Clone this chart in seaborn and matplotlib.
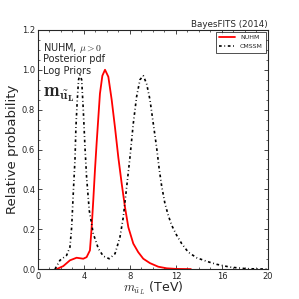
import numpy as np
import pandas as pd
import matplotlib
matplotlib.use("Agg")
import matplotlib.pyplot as plt
import seaborn as sns
from matplotlib.ticker import MultipleLocator

# NUHM posterior
nuhm_x = [1.62, 2.2, 2.78, 3.36, 3.94, 4.23, 4.52, 4.67, 4.81, 4.96, 5.1, 5.25, 5.39,
          5.6, 5.83, 6.12, 6.41, 6.7, 6.99, 7.28, 7.57, 7.86, 8.29, 8.72, 9.16, 9.74,
          10.46, 11.2, 12.0, 13.3]
nuhm_y = [0.0, 0.015, 0.044, 0.057, 0.052, 0.06, 0.094, 0.21, 0.345, 0.50, 0.63, 0.76, 0.88,
          0.97, 1.0, 0.965, 0.85, 0.71, 0.56, 0.43, 0.31, 0.21, 0.128, 0.085, 0.052, 0.03,
          0.012, 0.004, 0.001, 0.0]

# CMSSM posterior
cmssm_x = [1.48, 1.91, 2.49, 2.78, 2.93, 3.07, 3.22, 3.3, 3.42, 3.53, 3.65, 3.8, 3.94,
           4.09, 4.23, 4.46, 4.81, 5.25, 5.68, 6.2, 6.7, 7.13, 7.42, 7.71, 8.0, 8.29,
           8.58, 8.87, 9.16, 9.45, 9.74, 10.03, 10.32, 10.55, 10.75, 11.04, 11.33, 11.63,
           12.06, 12.5, 13.07, 13.8, 14.67, 15.54, 16.7, 18.15, 19.9]
cmssm_y = [0.0, 0.044, 0.069, 0.11, 0.21, 0.38, 0.55, 0.71, 0.85, 0.95, 0.974, 0.95, 0.80,
           0.61, 0.46, 0.295, 0.178, 0.103, 0.065, 0.052, 0.077, 0.16, 0.26, 0.41, 0.56,
           0.73, 0.865, 0.95, 0.97, 0.93, 0.85, 0.73, 0.61, 0.50, 0.42, 0.33, 0.27, 0.22,
           0.17, 0.128, 0.085, 0.057, 0.039, 0.024, 0.01, 0.002, 0.0]

sns.set_style("ticks")
plt.rcParams['font.family'] = ['DejaVu Sans']
plt.rcParams['mathtext.fontset'] = 'cm'

df_n = pd.DataFrame({'x': nuhm_x, 'y': nuhm_y})
df_c = pd.DataFrame({'x': cmssm_x, 'y': cmssm_y})

fig = plt.figure(figsize=(2.99, 2.99), dpi=100)
ax = fig.add_axes([0.127, 0.1, 0.769, 0.8])

sns.lineplot(data=df_n, x='x', y='y', ax=ax, color='red', lw=1.3, label='NUHM')
sns.lineplot(data=df_c, x='x', y='y', ax=ax, color='black', lw=1.2, label='CMSSM')
ax.lines[1].set_dashes([1.6, 1.6, 0.5, 1.6])

ax.set_xlim(0, 20)
ax.set_ylim(0, 1.2)
ax.xaxis.set_major_locator(MultipleLocator(4))
ax.xaxis.set_minor_locator(MultipleLocator(1))
ax.yaxis.set_major_locator(MultipleLocator(0.2))
ax.yaxis.set_minor_locator(MultipleLocator(0.05))
ax.tick_params(which='both', direction='in', top=True, right=True, labelsize=6, pad=2)
ax.tick_params(which='major', length=3, width=0.6)
ax.tick_params(which='minor', length=1.5, width=0.5)
for s in ax.spines.values():
    s.set_linewidth(0.8)

ax.set_xlabel(r'$m_{\tilde{u}_L}$ (TeV)', fontsize=9, labelpad=-1)
ax.set_ylabel('Relative probability', fontsize=9.5, labelpad=2)
ax.set_title('BayesFITS (2014)', loc='right', fontsize=6.3, pad=2)

ax.text(0.02, 0.925, r'NUHM, $\mu>0$', transform=ax.transAxes, fontsize=7, va='center')
ax.text(0.02, 0.877, 'Posterior pdf', transform=ax.transAxes, fontsize=7, va='center')
ax.text(0.02, 0.829, 'Log Priors', transform=ax.transAxes, fontsize=7, va='center')
ax.text(0.02, 0.73, r'$\mathbf{m_{\tilde{u}_L}}$', transform=ax.transAxes, fontsize=13.5,
        va='center')

leg = ax.legend(loc='upper right', fontsize=4.5, frameon=True, fancybox=False,
                handlelength=2.5, borderpad=0.5, labelspacing=0.6,
                borderaxespad=0.3)
leg.get_frame().set_edgecolor('black')
leg.get_frame().set_linewidth(0.6)

fig.savefig('out.png', dpi=100)
